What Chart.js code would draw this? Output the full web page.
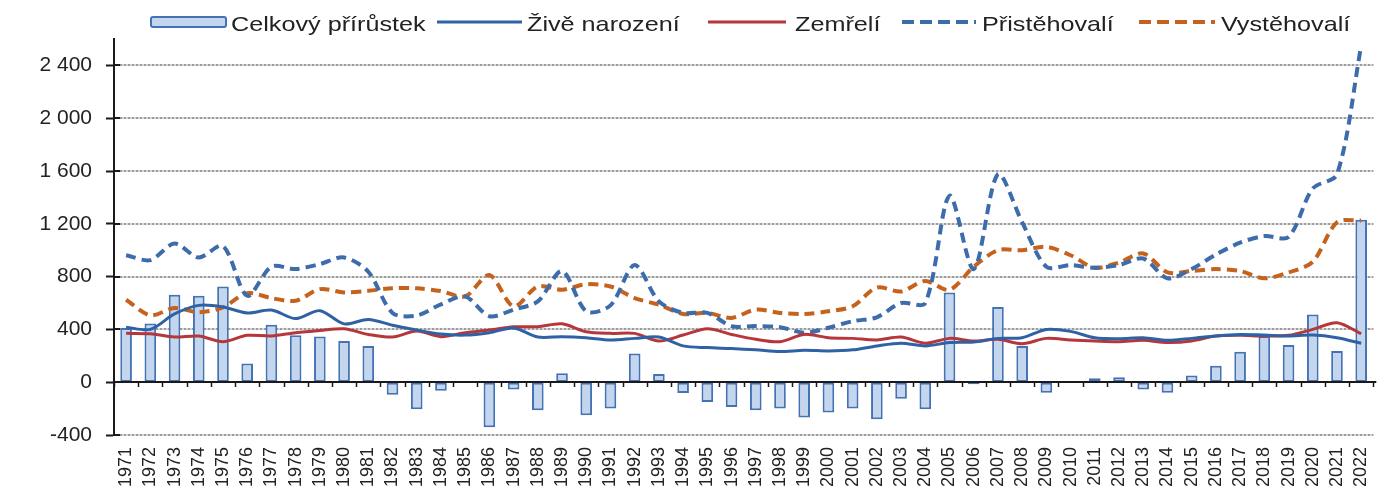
<!DOCTYPE html>
<html lang="cs">
<head>
<meta charset="utf-8">
<title>Pohyb obyvatelstva 1971–2022</title>
<script src="https://cdn.jsdelivr.net/npm/chart.js@4.4.1/dist/chart.umd.min.js"></script>
<style>
    html, body { margin: 0; padding: 0; background: #fff; }
    #wrap { position: relative; width: 1395px; height: 495px; }
    #legend { position: absolute; left: 0; top: 0; width: 1395px; height: 40px;
              font: 21px Arial, "Liberation Sans", sans-serif; color: #222; }
    #legend .mk, #legend .tx { position: absolute; }
    #legend .tx { top: 11px; line-height: 26px; white-space: nowrap;
                  transform: scaleX(1.2); transform-origin: 0 50%; }
    #legend .mk { top: 12px; }
</style>
</head>
<body>
<div id="wrap">
    <canvas id="chart" width="1395" height="495"></canvas>
    <div id="legend"></div>
</div>
<script>
// Roky
const years = [
    '1971','1972','1973','1974','1975','1976','1977','1978','1979','1980',
    '1981','1982','1983','1984','1985','1986','1987','1988','1989','1990',
    '1991','1992','1993','1994','1995','1996','1997','1998','1999','2000',
    '2001','2002','2003','2004','2005','2006','2007','2008','2009','2010',
    '2011','2012','2013','2014','2015','2016','2017','2018','2019','2020',
    '2021','2022'
];

// Celkový přírůstek
const celkovyPrirustek = [
    410, 445, 662, 655, 725, 142, 435, 355, 347, 312,
    275, -95, -205, -65, -5, -342, -55, -212, 67, -250,
    -200, 217, 62, -82, -150, -187, -212, -200, -267, -230,
    -200, -280, -125, -205, 680, -15, 570, 275, -80, -5,
    30, 37, -55, -80, 50, 125, 230, 350, 282, 512,
    237, 1230
];

// Živě narození
const ziveNarozeni = [
    417, 400, 517, 582, 570, 525, 547, 482, 542, 442,
    475, 432, 395, 365, 357, 375, 410, 342, 345, 337,
    320, 332, 342, 275, 262, 255, 245, 232, 242, 237,
    245, 275, 295, 275, 300, 305, 332, 337, 400, 385,
    337, 330, 337, 317, 332, 350, 362, 357, 350, 357,
    337, 295
];

// Zemřelí
const zemreli = [
    370, 367, 342, 350, 307, 355, 350, 375, 392, 405,
    362, 342, 387, 345, 375, 395, 420, 420, 442, 382,
    370, 370, 312, 357, 405, 362, 325, 307, 362, 337,
    332, 320, 342, 295, 332, 312, 325, 292, 332, 320,
    312, 307, 317, 300, 312, 350, 355, 350, 355, 400,
    450, 367
];

// Přistěhovalí
const pristehovali = [
    962, 925, 1050, 945, 1032, 655, 875, 857, 895, 945,
    837, 525, 505, 590, 650, 500, 550, 612, 842, 537,
    582, 887, 612, 525, 525, 425, 425, 417, 375, 412,
    462, 492, 600, 600, 1412, 857, 1575, 1212, 875, 887,
    867, 887, 937, 787, 857, 967, 1057, 1107, 1100, 1467,
    1575, 2550
];

// Vystěhovalí
const vystehovali = [
    625, 507, 562, 530, 567, 675, 637, 617, 705, 680,
    692, 712, 712, 690, 650, 812, 575, 725, 700, 742,
    725, 637, 587, 517, 525, 487, 550, 525, 517, 537,
    575, 717, 687, 767, 700, 875, 1000, 1000, 1025, 962,
    867, 907, 975, 832, 842, 857, 842, 787, 832, 912,
    1212, 1225
];

const yTicks = { min: -400, max: 2600, step: 400 };

const FONT = 'Arial, "Liberation Sans", sans-serif';
const TEXT = '#222';
const AXIS = '#1a1a1a';

// 2 400 instead of 2400
const fmt = (v) => String(v).replace(/\B(?=(\d{3})+(?!\d))/g, ' ');

const lineDs = (label, data, color, dashed) => ({
    type: 'line',
    label,
    data,
    borderColor: color,
    backgroundColor: color,
    borderWidth: dashed ? 4 : 3,
    borderDash: dashed ? [10, 6] : [],
    pointRadius: 0,
    tension: 0.3,
    fill: false,
    order: 1,
});

const datasets = [
    {
        type: 'bar',
        label: 'Celkový přírůstek',
        data: celkovyPrirustek,
        backgroundColor: '#c3d6ee',
        borderColor: '#4472b4',
        borderWidth: 2,
        borderSkipped: false,
        categoryPercentage: 1,
        barPercentage: 0.48,
        order: 5,
    },
    lineDs('Živě narození', ziveNarozeni, '#2f62a4', false),
    lineDs('Zemřelí', zemreli, '#b5373b', false),
    lineDs('Přistěhovalí', pristehovali, '#3d6cab', true),
    lineDs('Vystěhovalí', vystehovali, '#c5631e', true),
];

// dotted value grid behind the marks: pale base line with grey dots on top
const dottedGrid = {
    id: 'dottedGrid',
    beforeDatasetsDraw(chart) {
        const { ctx, chartArea, scales: { y } } = chart;
        ctx.save();
        ctx.lineWidth = 2;
        for (let v = yTicks.min; v < yTicks.max; v += yTicks.step) {
            if (v === 0) continue;
            const py = Math.round(y.getPixelForValue(v));
            ctx.setLineDash([]);
            ctx.strokeStyle = '#d6d6d6';
            ctx.beginPath();
            ctx.moveTo(chartArea.left + 2, py);
            ctx.lineTo(chartArea.right, py);
            ctx.stroke();
            ctx.setLineDash([2, 2]);
            ctx.strokeStyle = '#9c9c9c';
            ctx.beginPath();
            ctx.moveTo(chartArea.left + 2, py);
            ctx.lineTo(chartArea.right, py);
            ctx.stroke();
        }
        ctx.restore();
    },
};

// zero line with small category ticks, plus inner halves of the y ticks
const zeroAxis = {
    id: 'zeroAxis',
    afterDatasetsDraw(chart) {
        const { ctx, chartArea, scales: { x, y } } = chart;
        const y0 = Math.round(y.getPixelForValue(0));
        const w = x.getPixelForTick(1) - x.getPixelForTick(0);
        ctx.save();
        ctx.strokeStyle = AXIS;
        ctx.lineWidth = 2;
        ctx.beginPath();
        ctx.moveTo(chartArea.left, y0);
        ctx.lineTo(chartArea.right + 3, y0);
        ctx.stroke();
        ctx.lineWidth = 1.5;
        ctx.beginPath();
        for (let i = 0; i <= years.length; i++) {
            const px = Math.round(x.getPixelForTick(0) - w / 2 + i * w) + 0.5;
            ctx.moveTo(px, y0);
            ctx.lineTo(px, y0 + 5);
        }
        ctx.stroke();
        ctx.lineWidth = 2;
        ctx.beginPath();
        for (let v = yTicks.min; v < yTicks.max; v += yTicks.step) {
            const py = Math.round(y.getPixelForValue(v));
            ctx.moveTo(chartArea.left, py);
            ctx.lineTo(chartArea.left + 6, py);
        }
        ctx.stroke();
        ctx.restore();
    },
};

const chart = new Chart(document.getElementById('chart'), {
    data: { labels: years, datasets },
    plugins: [dottedGrid, zeroAxis],
    options: {
        responsive: false,
        animation: false,
        devicePixelRatio: 1,
        layout: { padding: { top: 39, right: 20, left: 0, bottom: 0 } },
        plugins: { legend: { display: false }, tooltip: { enabled: false } },
        scales: {
            x: {
                type: 'category',
                offset: true,
                afterFit: (s) => { s.height = 60; },
                grid: { display: false, drawTicks: false },
                border: { display: false },
                ticks: {
                    autoSkip: false,
                    maxRotation: 90,
                    minRotation: 90,
                    padding: 12,
                    color: TEXT,
                    font: { size: 18, family: FONT },
                },
            },
            y: {
                min: yTicks.min,
                max: yTicks.max,
                afterFit: (s) => { s.width = 114; },
                ticks: {
                    stepSize: yTicks.step,
                    includeBounds: false,
                    padding: 14,
                    color: TEXT,
                    font: { size: 21, family: FONT },
                    callback: (v) => fmt(v),
                },
                grid: {
                    drawOnChartArea: false,
                    tickColor: AXIS,
                    tickLength: 8,
                    tickWidth: 2,
                },
                border: { display: true, color: AXIS, width: 2 },
            },
        },
    },
});

// legend row above the plot
const legendPos = [
    { mk: 150, mw: 77, tx: 231 },
    { mk: 437, mw: 85, tx: 527 },
    { mk: 708, mw: 78, tx: 795 },
    { mk: 902, mw: 74, tx: 982 },
    { mk: 1139, mw: 76, tx: 1221 },
];

const legendEl = document.getElementById('legend');
datasets.forEach((ds, i) => {
    const p = legendPos[i];
    let svg;
    if (ds.type === 'bar') {
        svg = `<svg width="${p.mw}" height="20"><rect x="1" y="5" width="${p.mw - 2}" height="10" rx="2"
               fill="${ds.backgroundColor}" stroke="${ds.borderColor}" stroke-width="2"/></svg>`;
    } else {
        const dash = ds.borderDash.length ? 'stroke-dasharray="12 6"' : '';
        svg = `<svg width="${p.mw}" height="20"><line x1="0" y1="10" x2="${p.mw}" y2="10"
               stroke="${ds.borderColor}" stroke-width="${ds.borderWidth}" ${dash}/></svg>`;
    }
    legendEl.insertAdjacentHTML('beforeend',
        `<div class="mk" style="left:${p.mk}px">${svg}</div>` +
        `<div class="tx" style="left:${p.tx}px">${ds.label}</div>`);
});
</script>
</body>
</html>
